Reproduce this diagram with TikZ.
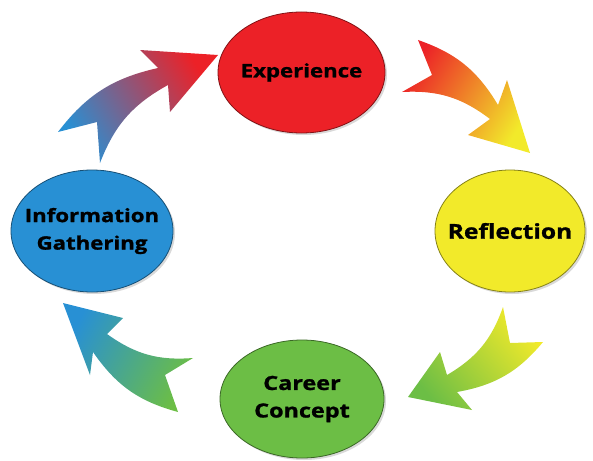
\documentclass[tikz,border=0pt]{standalone}
\usepackage{fontspec}
\setmainfont{Open Sans}[BoldFeatures={FakeStretch=1.2, FakeBold=1.2}]
\usepackage{tikz}
\usetikzlibrary{shapes.geometric, shadows}
\definecolor{expred}{RGB}{236,33,39}
\definecolor{refyellow}{RGB}{242,234,42}
\definecolor{cargreen}{RGB}{108,190,69}
\definecolor{infoblue}{RGB}{40,144,212}
\tikzset{stage/.style={shape=ellipse, draw=#1!55!black, fill=#1, line width=.8pt,
    inner xsep=-30pt, inner ysep=-10pt, align=center,
    font=\fontsize{18.5}{27.5}\selectfont\bfseries,
    drop shadow={opacity=.3, shadow xshift=2pt, shadow yshift=-2pt}}}
\tikzset{swoosh/.style 2 args={bottom color=#1, top color=#2}}

\begin{document}
\begin{tikzpicture}[x=1pt, y=-1pt]
      \useasboundingbox (0,0) rectangle (593,460);
      \node[stage=expred, minimum width=167pt, minimum height=121pt] (exp)
      at (301.5,72.5) {Experience};
      \node[stage=refyellow, minimum width=150pt, minimum height=122pt,
      font=\fontsize{20.5}{28}\selectfont\bfseries] (refl)
      at (510,231) {Reflection};
      \node[stage=cargreen, minimum width=164pt, minimum height=118pt,
      font=\fontsize{19.5}{27.5}\selectfont\bfseries] (career)
      at (302,399) {Career\\Concept};
      \node[stage=infoblue, minimum width=162pt, minimum height=122pt] (info)
      at (92,231) {Information\\Gathering};
%%%%%%%%%%%%
\shade[swoosh={infoblue}{expred}, shading angle=-59] (58,132) to[bend left=20] (158,68)
    -- (140,50) -- (218,55) -- (170,112) -- (168,85) to[bend right=20] (100,163)
    -- (97,122) -- cycle;
\shade[swoosh={expred}{refyellow}, shading angle=-122] (498,105) to[bend right=20] (418,40)
    -- (432,75) -- (402,92) to[bend left=20] (490,119) -- (468,135) -- (530,153)
    -- (507,80) -- cycle;
\shade[swoosh={refyellow}{cargreen}, shading angle=129] (503,307) to[bend left=20] (447,375)
    -- (440,352) -- (408,397) -- (472,410) -- (457,392) to[bend right=20] (543,342)
    -- (510,343) -- cycle;
\shade[swoosh={cargreen}{infoblue}, shading angle=62] (107,334) to[bend right=20] (193,358)
    -- (165,375) -- (178,412) to[bend left=20] (93,352) -- (90,375) -- (63,303)
    -- (123,318) -- cycle;
    \end{tikzpicture}
\end{document}
